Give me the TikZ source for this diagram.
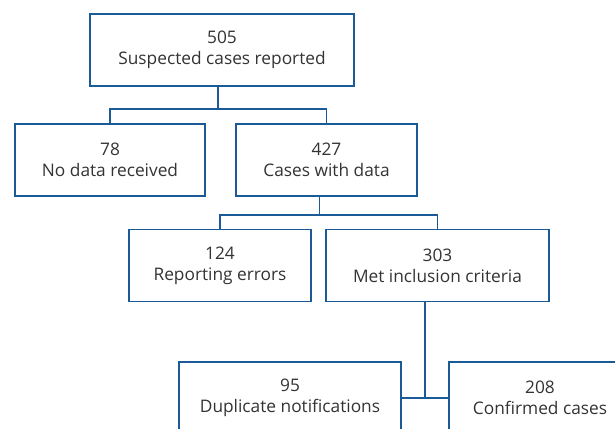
\documentclass[tikz,border=0pt]{standalone}
\usepackage{fontspec}
\setmainfont{Open Sans}
\usetikzlibrary{positioning}

\definecolor{flowblue}{HTML}{1A5A96}
\definecolor{flowtext}{HTML}{333333}

\tikzset{
    countbox/.style={draw=flowblue, line width=1.8pt, text=flowtext, align=center,
        minimum height=72pt, inner sep=0pt, font=\fontsize{17.3}{21}\selectfont},
    link/.style={draw=flowblue, line width=1.8pt}
}

\begin{document}
\begin{tikzpicture}[x=1pt,y=-1pt]
                \useasboundingbox (0,0) rectangle (615,428);
                \clip (0,0) rectangle (615,428);
                
                % boxes
                \node[countbox, minimum width=264pt] (reported) at (222,50) {505\\Suspected cases reported};
                \node[countbox, minimum width=190pt] (nodata) at (110,160) {78\\No data received};
                \node[countbox, minimum width=181pt] (withdata) at (326.5,160) {427\\Cases with data};
                \node[countbox, minimum width=182pt] (errors) at (220,265.5) {124\\Reporting errors};
                \node[countbox, minimum width=223pt] (met) at (437.5,265.5) {303\\Met inclusion criteria};
                \node[countbox, minimum width=222pt] (duplicate) at (290,398) {95\\Duplicate notifications};
                \node[countbox, minimum width=182pt] (confirmed) at (540,398) {208\\Confirmed cases};
                
                % connectors
                \draw[link] ([xshift=-4pt]reported.south) -- ++(0,22) -| (nodata.north);
                \draw[link] ([xshift=-4pt]reported.south) -- ++(0,22) -| (withdata.north);
                \draw[link] ([xshift=-7pt]withdata.south) -- ++(0,18) -| (errors.north);
                \draw[link] ([xshift=-7pt]withdata.south) -- ++(0,18) -| (met.north);
                \coordinate (split) at (425,398);
                \draw[link] (met.south -| split) -- (split);
                \draw[link] (duplicate.east) -- (confirmed.west);
            \end{tikzpicture}
\end{document}
